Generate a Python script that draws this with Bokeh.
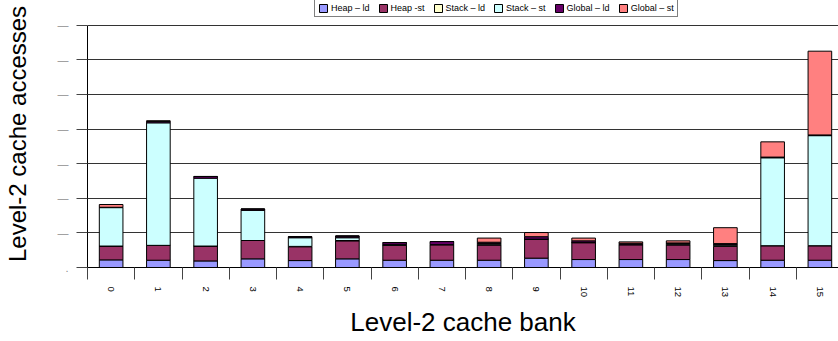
from bokeh.plotting import figure
from bokeh.models import (ColumnDataSource, Range1d, FixedTicker, CustomJSTickFormatter)
from bokeh.embed import file_html
from bokeh.resources import INLINE

# Level-2 cache accesses per bank, split by region and access type
banks = [str(i) for i in range(16)]
heap_ld   = [0.22, 0.21, 0.19, 0.25, 0.20, 0.25, 0.21, 0.21, 0.21, 0.27, 0.23, 0.23, 0.23, 0.20, 0.21, 0.21]
heap_st   = [0.40, 0.43, 0.43, 0.53, 0.40, 0.52, 0.43, 0.45, 0.44, 0.55, 0.49, 0.43, 0.42, 0.41, 0.42, 0.42]
stack_ld  = [0.00, 0.00, 0.00, 0.00, 0.01, 0.01, 0.00, 0.00, 0.01, 0.00, 0.00, 0.00, 0.02, 0.02, 0.00, 0.00]
stack_st  = [1.11, 3.54, 1.96, 0.87, 0.25, 0.08, 0.02, 0.00, 0.03, 0.00, 0.00, 0.00, 0.03, 0.03, 2.54, 3.18]
global_ld = [0.01, 0.04, 0.05, 0.04, 0.03, 0.05, 0.06, 0.09, 0.04, 0.07, 0.05, 0.04, 0.01, 0.03, 0.02, 0.02]
global_st = [0.08, 0.02, 0.00, 0.00, 0.00, 0.00, 0.00, 0.00, 0.12, 0.12, 0.08, 0.04, 0.06, 0.46, 0.44, 2.42]

series_names = ["Heap \u2013 ld", "Heap -st", "Stack \u2013 ld", "Stack \u2013 st", "Global \u2013 ld", "Global \u2013 st"]
series_keys = ["heap_ld", "heap_st", "stack_ld", "stack_st", "global_ld", "global_st"]
colors = ["#9999FF", "#993366", "#FFFFCC", "#CCFFFF", "#660066", "#FF8080"]
y_ticks = [0, 1, 2, 3, 4, 5, 6, 7]

source = ColumnDataSource(dict(
    x=list(range(len(banks))),
    heap_ld=heap_ld, heap_st=heap_st, stack_ld=stack_ld,
    stack_st=stack_st, global_ld=global_ld, global_st=global_st,
))

FONT = "Liberation Sans"

p = figure(width=838, height=341, output_backend="svg", toolbar_location=None,
           x_range=Range1d(-0.5, 15.394), y_range=Range1d(0, 7.714),
           min_border_left=87, min_border_right=0, min_border_top=0, min_border_bottom=74)
p.outline_line_color = None
p.background_fill_color = "white"
p.border_fill_color = "white"

p.vbar_stack(series_keys, x="x", width=0.5, source=source, color=colors,
             line_color="black", line_width=1, legend_label=series_names)

# y axis: grid lines at whole units, placeholder tick labels
yax = p.yaxis[0]
yax.ticker = FixedTicker(ticks=y_ticks)
yax.bounds = (0, 7)
yax.formatter = CustomJSTickFormatter(code="return tick == 0 ? '.' : '\u2014';")
yax.major_label_text_font = FONT
yax.major_label_text_font_size = "11px"
yax.major_label_text_color = "#8c8c8c"
yax.major_label_standoff = 8
yax.major_tick_out = 11
yax.major_tick_in = 0
yax.minor_tick_line_color = None
yax.axis_line_color = "black"
yax.major_tick_line_color = "#444444"
yax.axis_label = "Level-2 cache accesses"
yax.axis_label_text_font = FONT
yax.axis_label_text_font_size = "24px"
yax.axis_label_text_font_style = "normal"
yax.axis_label_text_color = "black"
yax.axis_label_standoff = 24

p.ygrid.grid_line_color = "#333333"
p.ygrid.grid_line_width = 1
p.xgrid.grid_line_color = None

# x axis: bank labels at centres, boundary ticks between banks
xax = p.xaxis[0]
xax.ticker = FixedTicker(ticks=list(range(len(banks))),
                         minor_ticks=[i - 0.5 for i in range(len(banks) + 1)])
xax.formatter = CustomJSTickFormatter(args=dict(labels=banks),
                                      code="return labels[Math.round(tick)];")
xax.major_label_orientation = -1.5707963
xax.major_label_text_font = FONT
xax.major_label_text_font_size = "9.5px"
xax.major_label_text_color = "black"
xax.major_label_standoff = 7
xax.major_tick_line_color = None
xax.major_tick_out = 0
xax.major_tick_in = 0
xax.minor_tick_line_color = "#444444"
xax.minor_tick_out = 12
xax.minor_tick_in = 0
xax.axis_line_color = "black"
xax.axis_label = "Level-2 cache bank"
xax.axis_label_text_font = FONT
xax.axis_label_text_font_size = "26px"
xax.axis_label_text_font_style = "normal"
xax.axis_label_text_color = "black"
xax.axis_label_standoff = 7

leg = p.legend[0]
leg.orientation = "horizontal"
leg.location = (227, 250)
leg.label_text_font = FONT
leg.label_text_font_size = "9px"
leg.label_text_color = "black"
leg.glyph_width = 10
leg.glyph_height = 10
leg.label_height = 10
leg.label_width = 0
leg.label_standoff = 3
leg.spacing = 8
leg.padding = 3
leg.margin = 0
leg.border_line_color = "black"
leg.border_line_width = 1
leg.background_fill_color = "white"
leg.background_fill_alpha = 1.0

open("out.html", "w").write(file_html(p, INLINE))
